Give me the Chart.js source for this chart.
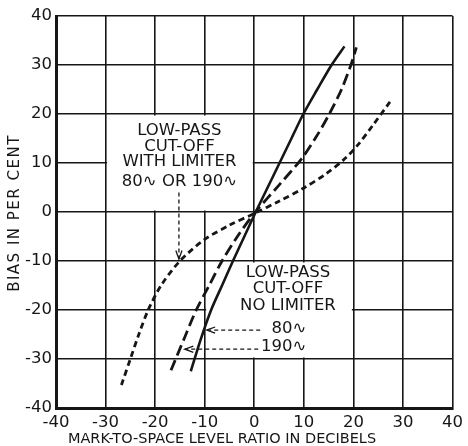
<!DOCTYPE html>
<html>
<head>
<meta charset="utf-8">
<script src="https://cdn.jsdelivr.net/npm/chart.js@4/dist/chart.umd.min.js"></script>
<style>
html, body { margin: 0; padding: 0; background: #fff; }
</style>
</head>
<body>
<canvas id="biasChart" width="468" height="446"></canvas>
<script>
// tick labels
const xTicks = [-40, -30, -20, -10, 0, 10, 20, 30, 40];
const yTicks = [-40, -30, -20, -10, 0, 10, 20, 30, 40];

// low-pass cut-off, no limiter, 80~ (solid)
const noLim80X = [-12.8, -10.8, -8.7, -6.5, -4.3, -2.0, 0.3, 2.7, 5.1, 7.5, 9.9, 12.7, 15.6, 18.2];
const noLim80Y = [-32.5, -26, -20, -15, -10, -5, 0, 5, 10, 15, 20, 25, 30, 33.8];

// low-pass cut-off, no limiter, 190~ (long dashes)
const noLim190X = [-16.8, -14.0, -11.7, -9.1, -6.5, -3.4, 0, 5.0, 9.5, 12.6, 15.3, 17.6, 19.5, 20.6];
const noLim190Y = [-32.3, -25.5, -20, -15, -10, -5, -0.3, 5.5, 10.8, 15.5, 20.3, 25, 30, 33.6];

// low-pass cut-off with limiter, 80~ or 190~ (short dashes)
const withLimX = [-26.8, -25.0, -23.3, -21.4, -18.8, -15.0, -10, -5, 0, 5, 10, 14.5, 18.2, 21.0, 24.0, 27.4];
const withLimY = [-35.3, -30, -25, -20, -15, -10, -5.6, -2.7, -0.3, 2.2, 4.9, 7.8, 10.8, 13.8, 17.8, 22.5];

const xTitle = 'MARK-TO-SPACE LEVEL RATIO IN DECIBELS';
const yTitle = 'BIAS IN PER CENT';
const limiterNote = ['LOW-PASS', 'CUT-OFF', 'WITH LIMITER', '80\u223F OR 190\u223F'];
const noLimiterNote = ['LOW-PASS', 'CUT-OFF', 'NO LIMITER'];
const curveTags = ['80\u223F', '190\u223F'];

const ink = '#161616';
Chart.defaults.font.family = 'DejaVu Sans';
Chart.defaults.color = ink;

function toPoints(xs, ys) {
    return xs.map((v, i) => ({x: v, y: ys[i]}));
}

function arrow(ctx, x0, y0, x1, y1) {
    ctx.setLineDash([4, 3]);
    ctx.beginPath();
    ctx.moveTo(x0, y0);
    ctx.lineTo(x1, y1);
    ctx.stroke();
    ctx.setLineDash([]);
    var a = Math.atan2(y1 - y0, x1 - x0);
    ctx.beginPath();
    ctx.moveTo(x1 - 9 * Math.cos(a - 0.35), y1 - 9 * Math.sin(a - 0.35));
    ctx.lineTo(x1, y1);
    ctx.lineTo(x1 - 9 * Math.cos(a + 0.35), y1 - 9 * Math.sin(a + 0.35));
    ctx.stroke();
}

// white label boxes over the grid, then the notes and axis titles
const notes = {
    id: 'notes',
    beforeDatasetsDraw(chart) {
        const ctx = chart.ctx, x = chart.scales.x, y = chart.scales.y;
        ctx.save();
        ctx.fillStyle = '#fff';
        [[-30, 0, 0, 20], [-10, 20, -30, -10]].forEach(b => {
            var l = x.getPixelForValue(b[0]) + 1.5, r = x.getPixelForValue(b[1]) - 1.5;
            var t = y.getPixelForValue(b[3]) + 1.5, bt = y.getPixelForValue(b[2]) - 1.5;
            ctx.fillRect(l, t, r - l, bt - t);
        });
        ctx.restore();
    },
    afterDraw(chart) {
        const ctx = chart.ctx, x = chart.scales.x, y = chart.scales.y;
        ctx.save();
        ctx.fillStyle = ink;
        ctx.strokeStyle = ink;
        ctx.lineWidth = 1.3;
        ctx.font = '16.5px "DejaVu Sans"';
        ctx.textAlign = 'center';
        ctx.textBaseline = 'middle';

        var ly = [16.5, 13.4, 10.2, 6.1];
        limiterNote.forEach((s, i) => ctx.fillText(s, x.getPixelForValue(-15.1), y.getPixelForValue(ly[i])));
        arrow(ctx, x.getPixelForValue(-15.2), y.getPixelForValue(4.0), x.getPixelForValue(-15.2), y.getPixelForValue(-9.6));

        var ny = [-12.4, -15.7, -19.1];
        noLimiterNote.forEach((s, i) => ctx.fillText(s, x.getPixelForValue(6.8), y.getPixelForValue(ny[i])));
        ctx.textAlign = 'right';
        ctx.fillText(curveTags[0], x.getPixelForValue(10.5), y.getPixelForValue(-23.9));
        ctx.fillText(curveTags[1], x.getPixelForValue(10.5), y.getPixelForValue(-27.4));
        arrow(ctx, x.getPixelForValue(1.2), y.getPixelForValue(-24.1), x.getPixelForValue(-9.6), y.getPixelForValue(-24.1));
        arrow(ctx, x.getPixelForValue(0.8), y.getPixelForValue(-28.0), x.getPixelForValue(-14.0), y.getPixelForValue(-28.0));

        // axis titles
        ctx.textAlign = 'center';
        ctx.font = '14.5px "DejaVu Sans"';
        ctx.fillText(xTitle, 222, 439);
        ctx.translate(15, 213);
        ctx.rotate(-Math.PI / 2);
        ctx.font = '15px "DejaVu Sans"';
        ctx.letterSpacing = '1.5px';
        ctx.fillText(yTitle, 0, 0);
        ctx.restore();
    }
};

var ctx = document.getElementById('biasChart').getContext('2d');
var biasChart = new Chart(ctx, {
    type: 'scatter',
    data: {
        datasets: [{
            label: '80~ no limiter',
            data: toPoints(noLim80X, noLim80Y),
            borderColor: ink,
            borderWidth: 2.6
        },
        {
            label: '190~ no limiter',
            data: toPoints(noLim190X, noLim190Y),
            borderColor: ink,
            borderWidth: 2.8,
            borderDash: [11, 5]
        },
        {
            label: 'with limiter',
            data: toPoints(withLimX, withLimY),
            borderColor: ink,
            borderWidth: 2.8,
            borderDash: [6, 4]
        }]
    },
    options: {
        responsive: false,
        animation: false,
        devicePixelRatio: 1,
        showLine: true,
        elements: {
            point: { radius: 0 },
            line: { tension: 0.3, fill: false }
        },
        layout: { padding: { top: 16, right: 12, left: 0, bottom: 0 } },
        plugins: {
            legend: { display: false },
            tooltip: { enabled: false }
        },
        scales: {
            x: {
                type: 'linear',
                min: -40,
                max: 40,
                afterBuildTicks: s => { s.ticks = xTicks.map(v => ({value: v})); },
                afterFit: s => { s.height = 38; },
                grid: { color: ink, lineWidth: 1.6, drawTicks: false },
                border: { color: ink, width: 3 },
                ticks: { padding: 5, font: { size: 16.5 }, color: ink, maxRotation: 0 }
            },
            y: {
                type: 'linear',
                min: -40,
                max: 40,
                afterBuildTicks: s => { s.ticks = yTicks.map(v => ({value: v})); },
                afterFit: s => { s.width = 56; },
                grid: { color: ink, lineWidth: 1.6, drawTicks: false },
                border: { color: ink, width: 3 },
                ticks: { padding: 4, font: { size: 16.5 }, color: ink }
            }
        }
    },
    plugins: [notes]
});
</script>
</body>
</html>
